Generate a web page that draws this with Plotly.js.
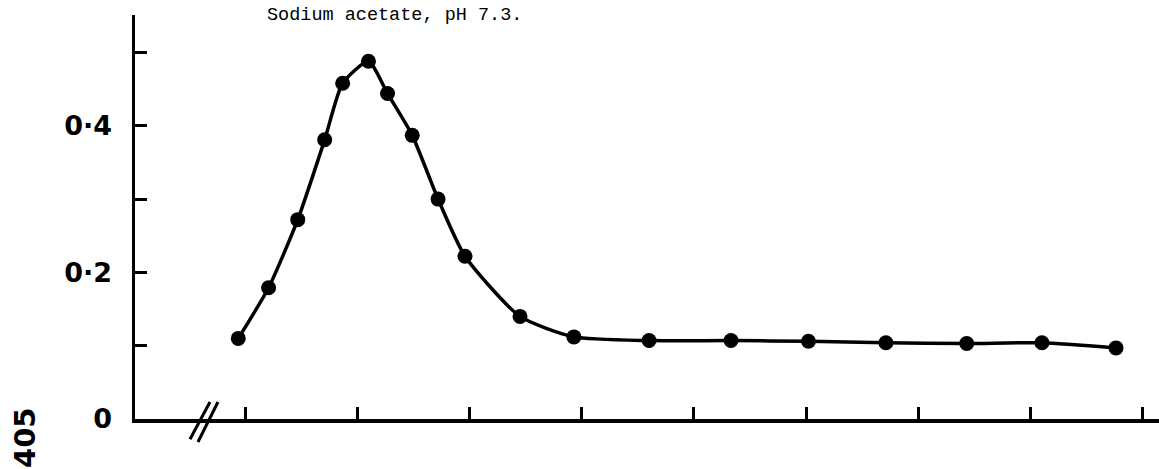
<!DOCTYPE html>
<html>
<head>
<meta charset="utf-8">
<script src="https://cdn.plot.ly/plotly-3.0.1.min.js"></script>
<style>
  html, body { margin: 0; padding: 0; background: #fff; }
  #chart { width: 1159px; height: 469px; }
</style>
</head>
<body>
<div id="chart"></div>
<script>
// Fraction position (arbitrary units, one tick per 10 units) and absorbance at 405 nm
const fraction = [9.4, 12.1, 14.7, 17.1, 18.7, 21.0, 22.7, 24.9, 27.2, 29.6, 34.5, 39.3, 46.0, 53.3, 60.2, 67.1, 74.3, 81.0, 87.6];
const absorbance = [0.110, 0.179, 0.272, 0.381, 0.458, 0.488, 0.444, 0.387, 0.300, 0.222, 0.140, 0.112, 0.107, 0.107, 0.106, 0.104, 0.103, 0.104, 0.097];

const yTickVals = [0, 0.1, 0.2, 0.3, 0.4, 0.5];
const yTickText = ['0', '', '0·2', '', '0·4', ''];
const xTickVals = [10, 20, 30, 40, 50, 60, 70, 80, 90];

const titleText = 'Sodium acetate, pH 7.3.';
const yLabelText = '405';

const trace = {
  x: fraction,
  y: absorbance,
  mode: 'lines+markers',
  type: 'scatter',
  line: { color: '#000', width: 3.5, shape: 'spline', smoothing: 0.6 },
  marker: { color: '#000', size: 15 },
  cliponaxis: false,
  hoverinfo: 'x+y'
};

const layout = {
  width: 1159,
  height: 469,
  margin: { l: 135, r: 0, t: 15, b: 50 },
  paper_bgcolor: '#fff',
  plot_bgcolor: '#fff',
  showlegend: false,
  font: { family: 'DejaVu Sans', color: '#000' },
  xaxis: {
    range: [0.2, 91.43],
    showgrid: false,
    zeroline: false,
    showline: true,
    linecolor: '#000',
    linewidth: 3.5,
    tickmode: 'array',
    tickvals: xTickVals,
    ticks: 'inside',
    ticklen: 12,
    tickwidth: 3,
    tickcolor: '#000',
    showticklabels: false
  },
  yaxis: {
    range: [0, 0.5512],
    showgrid: false,
    zeroline: false,
    showline: true,
    linecolor: '#000',
    linewidth: 3.5,
    tickmode: 'array',
    tickvals: yTickVals,
    ticktext: yTickText,
    ticks: 'inside',
    ticklen: 12,
    tickwidth: 3,
    tickcolor: '#000',
    ticklabelstandoff: 14,
    tickfont: { family: 'DejaVu Sans', size: 27, weight: 'bold', color: '#000' }
  },
  annotations: [
    {
      text: titleText,
      xref: 'x', yref: 'paper',
      x: 11.8, y: 1.0,
      xanchor: 'left', yanchor: 'middle',
      showarrow: false,
      font: { family: 'Liberation Mono', size: 18.5, color: '#000' }
    },
    {
      text: yLabelText,
      xref: 'paper', yref: 'paper',
      x: -0.108, y: -0.046,
      xanchor: 'center', yanchor: 'middle',
      textangle: -90,
      showarrow: false,
      font: { family: 'DejaVu Sans', size: 29, weight: 'bold', color: '#000' }
    }
  ],
  shapes: [
    { type: 'line', xref: 'paper', yref: 'paper', x0: 0.0537, y0: -0.05, x1: 0.0732, y1: 0.042, line: { color: '#000', width: 3 } },
    { type: 'line', xref: 'paper', yref: 'paper', x0: 0.0615, y0: -0.057, x1: 0.081, y1: 0.042, line: { color: '#000', width: 3 } }
  ]
};

Plotly.newPlot('chart', [trace], layout, { staticPlot: true, displayModeBar: false });
</script>
</body>
</html>
